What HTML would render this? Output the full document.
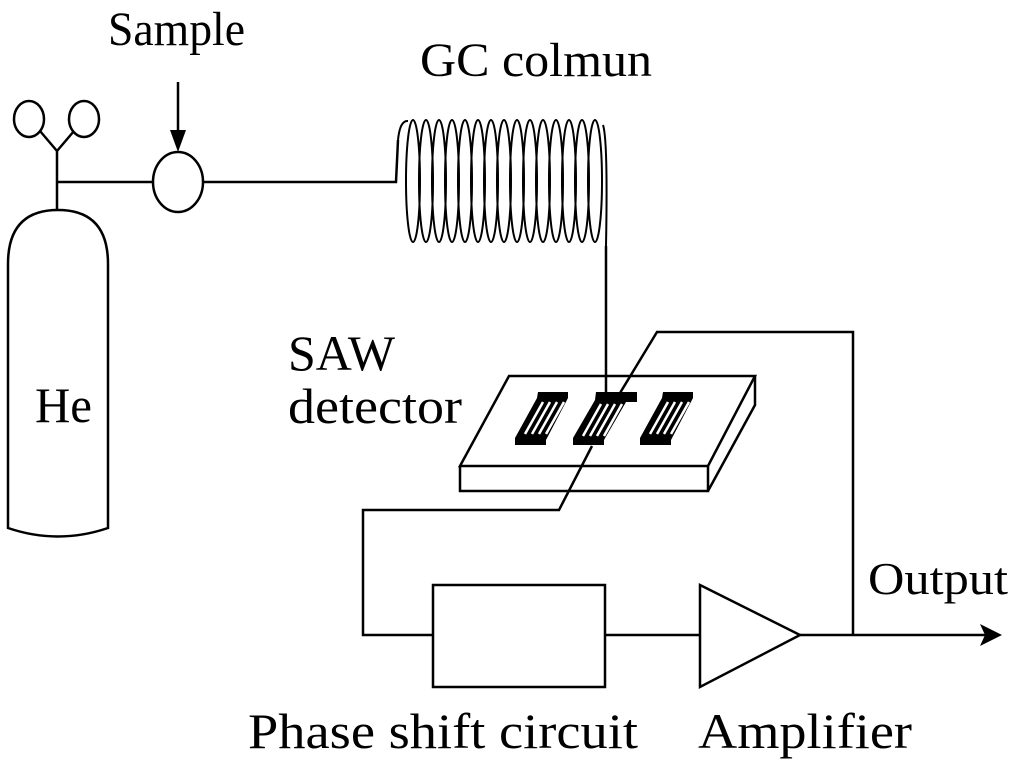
<!DOCTYPE html>
<html><head><style>
html,body{margin:0;padding:0;background:#fff;}
svg{display:block;}
text{font-family:"Liberation Serif",serif;fill:#000;}
</style></head><body>
<svg width="1024" height="766" viewBox="0 0 1024 766" xmlns="http://www.w3.org/2000/svg">
<g fill="none" stroke="#000" stroke-width="2.5">
<ellipse cx="29" cy="119" rx="15" ry="18"/>
<ellipse cx="84" cy="119" rx="15" ry="18"/>
<path d="M40,131 L57,151 L74,131 M57,151 V210 M57,182 H154"/>
<path d="M8,528 V264 Q8,210 58,210 Q108,210 108,264 V528 Q58,545 8,528 Z"/>
<ellipse cx="178" cy="182" rx="25" ry="30"/>
<path d="M178,82 V140"/>
<path d="M203,182 H396 L398,140"/>
<path d="M509,376 H755 L708,466 H460 Z"/>
<path d="M460,466 V491 H708 V466 M708,491 L755,405 V376"/>
<path d="M606,246 V392"/>
<path d="M620,393 L657,332 H853 V635"/>
<path d="M592,446 L559,510 H363 V635 H433"/>
<rect x="433" y="585" width="172" height="102"/>
<path d="M605,635 H700"/>
<path d="M700,585 L800,635 L700,687 Z"/>
<path d="M800,635 H995"/>
</g>
<g fill="none" stroke="#000" stroke-width="2">
<path d="M398,140 Q400,120 408,121" />
<path d="M603,125 Q608,140 606,246"/>
<ellipse cx="413" cy="181" rx="7" ry="61"/>
<ellipse cx="426" cy="181" rx="7" ry="61"/>
<ellipse cx="439" cy="181" rx="7" ry="61"/>
<ellipse cx="452" cy="181" rx="7" ry="61"/>
<ellipse cx="465" cy="181" rx="7" ry="61"/>
<ellipse cx="478" cy="181" rx="7" ry="61"/>
<ellipse cx="491" cy="181" rx="7" ry="61"/>
<ellipse cx="504" cy="181" rx="7" ry="61"/>
<ellipse cx="517" cy="181" rx="7" ry="61"/>
<ellipse cx="530" cy="181" rx="7" ry="61"/>
<ellipse cx="543" cy="181" rx="7" ry="61"/>
<ellipse cx="556" cy="181" rx="7" ry="61"/>
<ellipse cx="569" cy="181" rx="7" ry="61"/>
<ellipse cx="582" cy="181" rx="7" ry="61"/>
<ellipse cx="595" cy="181" rx="7" ry="61"/>
</g>
<path d="M170,130 L178,152 L186,130 Z" fill="#000"/>
<path d="M980,624 L1002,635 L980,646 L985,635 Z" fill="#000"/>
<!-- electrodes -->
<g fill="#000">
<path id="el" d="M538,392 H568 V398 L546,440 V445 H515 V438 L537,398 Z"/>
<path d="M596,392 H637 V402 H626 L604,440 V445 H573 V438 L595,400 Z"/>
<path d="M663,392 H693 V398 L671,440 V445 H640 V438 L662,398 Z"/>
</g>
<g stroke="#fff" stroke-width="2.5">
<path d="M543,402 L525,434 M550,402 L532,434 M557,402 L539,434 M564,402 L546,434"/>
<path d="M601,404 L583,436 M608,404 L590,436 M615,404 L597,436 M622,404 L604,436"/>
<path d="M668,402 L650,434 M675,402 L657,434 M682,402 L664,434 M689,402 L671,434"/>
</g>
<text x="108" y="45" font-size="48" textLength="137" lengthAdjust="spacingAndGlyphs">Sample</text>
<text x="420" y="76" font-size="48" textLength="232" lengthAdjust="spacingAndGlyphs">GC colmun</text>
<text x="288" y="370" font-size="50" textLength="107" lengthAdjust="spacingAndGlyphs">SAW</text>
<text x="288" y="423" font-size="50" textLength="174" lengthAdjust="spacingAndGlyphs">detector</text>
<text x="35" y="422" font-size="50" textLength="57" lengthAdjust="spacingAndGlyphs">He</text>
<text x="868" y="594" font-size="46" textLength="140" lengthAdjust="spacingAndGlyphs">Output</text>
<text x="248" y="748" font-size="50" textLength="390" lengthAdjust="spacingAndGlyphs">Phase shift circuit</text>
<text x="698" y="748" font-size="50" textLength="214" lengthAdjust="spacingAndGlyphs">Amplifier</text>
</svg>
</body></html>
